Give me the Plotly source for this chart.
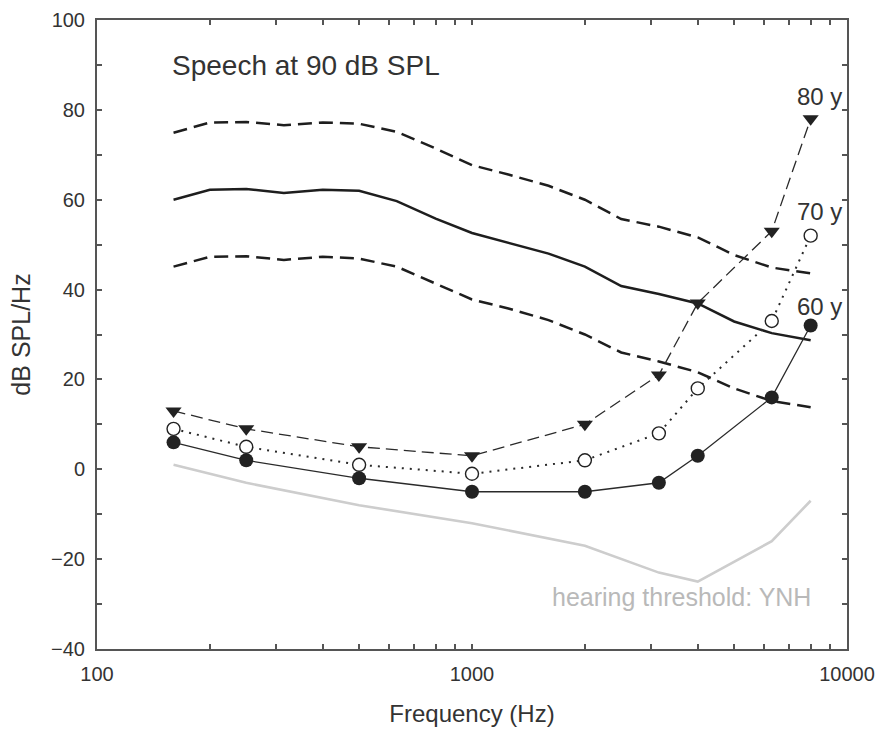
import plotly.graph_objects as go

# ---- data ----
freq_speech = [160, 200, 250, 315, 400, 500, 630, 800, 1000, 1250, 1600, 2000, 2500, 3150, 4000, 5000, 6300, 8000]
speech_mean = [60.0, 62.2, 62.4, 61.5, 62.2, 62.0, 59.7, 55.8, 52.6, 50.4, 48.0, 45.1, 40.8, 39.0, 36.9, 32.9, 30.3, 28.7]
speech_upper = [74.9, 77.2, 77.3, 76.6, 77.2, 76.9, 75.1, 71.4, 67.7, 65.6, 63.1, 60.0, 55.7, 54.0, 51.6, 47.7, 44.9, 43.6]
speech_lower = [45.1, 47.3, 47.4, 46.6, 47.3, 46.9, 45.1, 41.4, 37.8, 35.8, 33.2, 30.0, 26.0, 24.0, 21.6, 18.0, 15.2, 13.8]

freq_aud = [160, 250, 500, 1000, 2000, 3150, 4000, 6300, 8000]
age60 = [6, 2, -2, -5, -5, -3, 3, 16, 32]
age70 = [9, 5, 1, -1, 2, 8, 18, 33, 52]
age80 = [13, 9, 5, 3, 10, 21, 37, 53, 78]
threshold_ynh = [1, -3, -8, -12, -17, -23, -25, -16, -7]

x_tickvals = [100, 200, 300, 400, 500, 600, 700, 800, 900,
              1000, 2000, 3000, 4000, 5000, 6000, 7000, 8000, 9000, 10000]
x_ticktext = ["100", "", "", "", "", "", "", "", "",
              "1000", "", "", "", "", "", "", "", "", "10000"]
y_tickvals = list(range(-40, 101, 10))
y_ticktext = [("\u2212" + str(-v) if v < 0 else str(v)) if v % 20 == 0 else "" for v in y_tickvals]

FONT = "Liberation Sans, Arial, Helvetica, sans-serif"
DARK = "#1e1e1e"
TXT = "#333333"
AX = "#555555"

fig = go.Figure()

fig.add_trace(go.Scatter(x=freq_aud, y=threshold_ynh, mode="lines",
                         line=dict(color="#cdcdcd", width=2.6), hoverinfo="skip"))
fig.add_trace(go.Scatter(x=freq_speech, y=speech_upper, mode="lines",
                         line=dict(color=DARK, width=2.5, dash="14px,7px")))
fig.add_trace(go.Scatter(x=freq_speech, y=speech_mean, mode="lines",
                         line=dict(color=DARK, width=2.5)))
fig.add_trace(go.Scatter(x=freq_speech, y=speech_lower, mode="lines",
                         line=dict(color=DARK, width=2.5, dash="14px,7px")))

fig.add_trace(go.Scatter(x=freq_aud, y=age80, mode="lines+markers",
                         line=dict(color="#2a2a2a", width=1.3, dash="12px,6px"),
                         marker=dict(symbol="triangle-down", size=14, color="#222222",
                                     line=dict(width=0))))
fig.add_trace(go.Scatter(x=freq_aud, y=age70, mode="lines+markers",
                         line=dict(color="#2a2a2a", width=2, dash="2px,6px"),
                         marker=dict(symbol="circle", size=13, color="white",
                                     line=dict(width=1.4, color="#222222"))))
fig.add_trace(go.Scatter(x=freq_aud, y=age60, mode="lines+markers",
                         line=dict(color="#2a2a2a", width=1.3),
                         marker=dict(symbol="circle", size=14, color="#222222",
                                     line=dict(width=0))))

annos = [
    dict(text="Speech at 90 dB SPL", x=0.097, y=0.927, xanchor="left", yanchor="middle",
         font=dict(size=28, color=TXT)),
    dict(text="80 y", x=0.996, y=0.879, xanchor="right", yanchor="middle",
         font=dict(size=24, color=TXT)),
    dict(text="70 y", x=0.996, y=0.695, xanchor="right", yanchor="middle",
         font=dict(size=24, color=TXT)),
    dict(text="60 y", x=0.996, y=0.544, xanchor="right", yanchor="middle",
         font=dict(size=24, color=TXT)),
    dict(text="hearing threshold: YNH", x=0.955, y=0.083, xanchor="right", yanchor="middle",
         font=dict(size=25, color="#b9b9b9")),
]
for a in annos:
    fig.add_annotation(xref="paper", yref="paper", showarrow=False, **a)

fig.update_layout(
    width=880, height=729,
    margin=dict(l=97, r=33, t=19.5, b=79.5, autoexpand=False),
    paper_bgcolor="white", plot_bgcolor="white",
    showlegend=False,
    font=dict(family=FONT, color=TXT, size=20),
)
fig.update_xaxes(
    type="log", range=[2, 4], automargin=False,
    tickvals=x_tickvals, ticktext=x_ticktext,
    ticks="inside", ticklen=5, tickwidth=1.5, tickcolor=AX,
    showline=True, linecolor=AX, linewidth=2, mirror="ticks",
    showgrid=False, zeroline=False,
    tickfont=dict(size=20, color=TXT), ticklabelstandoff=6,
    title=dict(text="Frequency (Hz)", font=dict(size=24, color=TXT), standoff=21),
)
fig.update_yaxes(
    range=[-40, 100], automargin=False,
    tickvals=y_tickvals, ticktext=y_ticktext,
    ticks="inside", ticklen=5, tickwidth=1.5, tickcolor=AX,
    showline=True, linecolor=AX, linewidth=2, mirror="ticks",
    showgrid=False, zeroline=False,
    tickfont=dict(size=20, color=TXT), ticklabelstandoff=6,
    title=dict(text="dB SPL/Hz", font=dict(size=25, color=TXT), standoff=13),
)

fig.write_html("out.html")
